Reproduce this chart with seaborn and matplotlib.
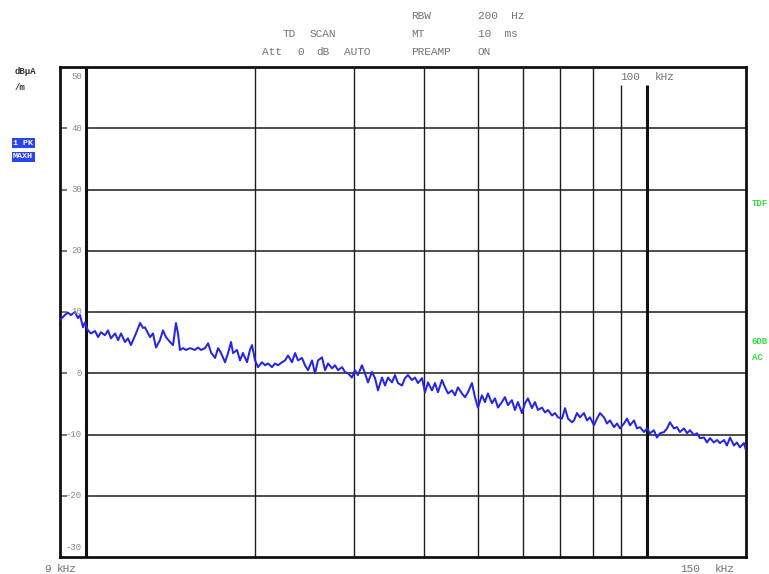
import numpy as np
import pandas as pd
import matplotlib
matplotlib.use("Agg")
import matplotlib.pyplot as plt
import seaborn as sns
from matplotlib.ticker import NullLocator
from matplotlib.transforms import blended_transform_factory

# ---------------- data ----------------
freq_khz = [
    9.00, 9.18, 9.30, 9.41, 9.57, 9.69, 9.77, 9.89, 9.97,
    10.09, 10.22, 10.39, 10.52, 10.65, 10.82, 10.96, 11.09, 11.28, 11.42,
    11.56, 11.75, 11.89, 12.04, 12.29, 12.50, 12.65, 12.75, 13.02, 13.18,
    13.34, 13.56, 13.73, 13.90, 14.13, 14.31, 14.48, 14.60, 14.72, 14.91,
    15.09, 15.34, 15.65, 15.85, 16.05, 16.31, 16.52, 16.72, 17.00, 17.21,
    17.42, 17.71, 17.93, 18.15,
    18.30, 18.60, 18.83, 19.06, 19.38, 19.61, 19.78, 20.03, 20.27, 20.61,
    20.87, 21.12, 21.47, 21.74, 22.01, 22.37, 22.65, 22.93, 23.31, 23.60,
    23.89, 24.28, 24.58, 24.89, 25.30, 25.61, 25.93, 26.36, 26.69, 27.02,
    27.47, 27.80, 28.15, 28.61, 28.96, 29.32, 29.80, 30.17, 30.54, 31.05,
    31.44, 31.83, 32.35, 32.76, 33.16, 33.71, 34.13, 34.55, 35.12, 35.55,
    35.99,
    36.59, 37.04, 37.50, 38.12, 38.59, 39.07, 39.72, 40.21, 40.71, 41.38,
    41.90, 42.41, 43.11, 43.65, 44.19, 44.92, 45.47, 46.03, 46.79, 47.37,
    47.96, 48.75, 49.35, 49.96, 50.79, 51.42, 52.05, 52.92, 53.58, 54.24,
    55.13, 55.81, 56.50, 57.43, 58.15, 58.87, 59.85, 60.59, 61.34, 62.35,
    63.13, 63.91, 64.97, 65.78, 66.60, 67.70, 68.54, 69.39, 70.54, 71.41,
    72.28, 73.48,
    74.09, 75.00, 75.93, 77.18, 78.13, 79.10, 80.41, 81.41, 82.42, 83.78,
    84.82, 85.87, 87.29, 88.38, 89.47, 90.95, 92.08, 93.22, 94.76, 95.92,
    97.11, 98.72, 99.94, 101.2, 102.8, 104.1, 105.4, 107.2, 108.5, 109.8,
    111.6, 113.0, 114.4, 116.3, 117.8, 119.2, 121.2, 122.7, 124.2, 126.3,
    127.8, 129.4, 131.5, 133.2, 134.8, 137.1, 138.7, 140.5, 142.8, 144.5,
    146.3, 148.7, 150.0,
]

level_dbua_m = [
    8.7, 9.5, 9.9, 9.5, 10.0, 9.0, 9.5, 7.5, 8.3,
    7.0, 6.5, 6.9, 5.9, 6.7, 6.2, 7.0, 5.7, 6.5, 5.4,
    6.5, 5.1, 5.7, 4.6, 6.5, 8.2, 7.4, 7.5, 5.9, 6.5,
    4.2, 5.4, 7.0, 5.9, 5.1, 4.6, 8.2, 6.5, 3.8, 4.1,
    3.8, 4.1, 3.8, 4.2, 3.8, 4.1, 4.9, 3.4, 2.5, 4.1,
    3.3, 1.8, 3.3, 5.1,
    3.3, 3.8, 2.1, 3.3, 1.8, 3.8, 4.6, 2.1, 1.0, 1.8,
    1.3, 1.6, 1.0, 1.6, 1.3, 1.8, 2.1, 2.9, 1.8, 3.3,
    2.1, 2.5, 1.3, 0.5, 2.1, 0.0, 2.1, 2.6, 0.5, 1.6,
    0.8, 1.3, 0.5, 1.0, 0.2, 0.0, -0.7, 0.5, -0.3, 1.3,
    0.0, -1.5, 0.2, -0.8, -2.8, -0.7, -2.0, -0.7, -1.5, -0.3,
    -1.6,
    -2.0, -0.8, -0.3, -1.1, -0.7, -1.6, -0.8, -3.1, -1.5, -2.8,
    -1.6, -3.1, -1.1, -2.3, -3.3, -2.8, -3.6, -2.3, -3.3, -3.9,
    -3.1, -1.6, -3.9, -5.6, -3.6, -4.7, -3.3, -4.9, -4.1, -5.6,
    -4.7, -3.9, -5.2, -4.4, -6.0, -4.7, -6.5, -4.9, -4.1, -5.7,
    -4.7, -6.0, -5.6, -6.4, -6.0, -6.9, -6.5, -7.2, -7.4, -5.7,
    -7.4, -8.0,
    -7.7, -6.5, -7.2, -6.5, -7.7, -7.2, -8.5, -7.4, -6.5, -7.2,
    -8.2, -7.7, -8.8, -8.2, -9.0, -8.2, -7.4, -8.5, -7.7, -9.0,
    -8.8, -9.6, -9.0, -9.8, -9.3, -10.5, -9.8, -9.6, -9.0, -8.0,
    -9.0, -8.8, -9.6, -9.0, -9.8, -9.3, -10.1, -9.8, -10.6, -10.5,
    -11.3, -10.6, -11.3, -10.9, -11.4, -10.9, -11.8, -10.5, -11.8, -11.3,
    -12.1, -11.4, -12.6,
]

level_grid = [-20, -10, 0, 10, 20, 30, 40]
level_labels = [-30, -20, -10, 0, 10, 20, 30, 40, 50]
thin_grid_khz = [20, 30, 40, 50, 60, 70, 80]
short_grid_khz = [90]
thick_grid_khz = [10]
thick_short_grid_khz = [100]

# ---------------- figure ----------------
sns.set_style("white")
plt.rcParams["font.family"] = ["Liberation Mono", "DejaVu Sans Mono", "DejaVu Sans"]

W, H = 769, 574
fig = plt.figure(figsize=(W / 100, H / 100), dpi=100)
fig.patch.set_facecolor("white")


def fx(px):
    return px / W


def fy(py):
    return 1 - py / H


ax = fig.add_axes([fx(60), fy(557), 686 / W, 490 / H])
ax.set_xscale("log")
ax.set_xlim(9, 150)
ax.set_ylim(-30, 50)

# grid
ax.hlines(level_grid, 10, 150, color="#4d4d4d", lw=1.4, zorder=1)
ax.vlines(thin_grid_khz, -30, 50, color="#1e1e1e", lw=1.0, zorder=1)
ax.vlines(short_grid_khz, -30, 47.1, color="#1e1e1e", lw=1.0, zorder=1)
ax.vlines(thick_grid_khz, -30, 50, color="#111111", lw=2.2, zorder=1)
ax.vlines(thick_short_grid_khz, -30, 47.1, color="#111111", lw=2.2, zorder=1)

# trace
df = pd.DataFrame({"freq_khz": freq_khz, "level": level_dbua_m})
sns.lineplot(data=df, x="freq_khz", y="level", ax=ax, color="#2626e2",
             lw=1.45, estimator=None, sort=False, zorder=3)

ax.set_xlabel("")
ax.set_ylabel("")
ax.set_xticks([])
ax.xaxis.set_minor_locator(NullLocator())
ax.set_yticks(level_grid)
ax.tick_params(axis="y", direction="in", length=5, width=1.3,
               colors="#6a6a6a", labelleft=False, left=True)
for sp in ax.spines.values():
    sp.set_visible(True)
    sp.set_color("#111111")
    sp.set_linewidth(2.0)

# y labels inside the frame
trans = blended_transform_factory(ax.transAxes, ax.transData)
for v in level_labels:
    pos = v
    if v == 50:
        pos = 48.4
    elif v == -30:
        pos = -28.4
    ax.text((82 - 60) / 686, pos, str(v), transform=trans, ha="right",
            va="center", fontsize=6.5, color="#8a8a8a")

txt = dict(fontsize=8, color="#737373", va="center", ha="left")

# header
fig.text(fx(283), fy(34), "TD", **txt)
fig.text(fx(310), fy(34), "SCAN", **txt)
fig.text(fx(262), fy(52), "Att", **txt)
fig.text(fx(297), fy(52), "0", **txt)
fig.text(fx(316), fy(52), "dB", **txt)
fig.text(fx(344), fy(52), "AUTO", **txt)
fig.text(fx(411), fy(16), "RBW", **txt)
fig.text(fx(478), fy(16), "200  Hz", **txt)
fig.text(fx(411), fy(34), "MT", **txt)
fig.text(fx(478), fy(34), "10  ms", **txt)
fig.text(fx(411), fy(52), "PREAMP", **txt)
fig.text(fx(478), fy(52), "ON", **txt)

# 100 kHz marker label
fig.text(fx(620), fy(77), "100", **txt)
fig.text(fx(655), fy(77), "kHz", **txt)

# bottom labels
fig.text(fx(44), fy(569), "9", **txt)
fig.text(fx(57), fy(569), "kHz", **txt)
fig.text(fx(680), fy(569), "150", **txt)
fig.text(fx(715), fy(569), "kHz", **txt)

# left unit labels
fig.text(fx(15), fy(72), "dB\u00b5A", fontsize=6.5, color="#333333",
         weight="bold", va="center", ha="left")
fig.text(fx(15), fy(87), "/m", fontsize=6.5, color="#333333",
         weight="bold", va="center", ha="left")

box = dict(boxstyle="square,pad=0.18", fc="#2a44ee", ec="none")
fig.text(fx(13), fy(143), "1 PK", fontsize=6, color="white", weight="bold",
         va="center", ha="left", bbox=box)
fig.text(fx(13), fy(157), "MAXH", fontsize=6, color="white", weight="bold",
         va="center", ha="left", bbox=box)

# right-side green markers (clipped by the image edge)
gtxt = dict(fontsize=6.5, color="#33dd44", va="center", ha="left", weight="bold")
fig.text(fx(752), fy(203), "TDF", **gtxt)
fig.text(fx(752), fy(342), "6DB", **gtxt)
fig.text(fx(752), fy(357), "AC", **gtxt)

fig.savefig("out.png", dpi=100, facecolor="white")
